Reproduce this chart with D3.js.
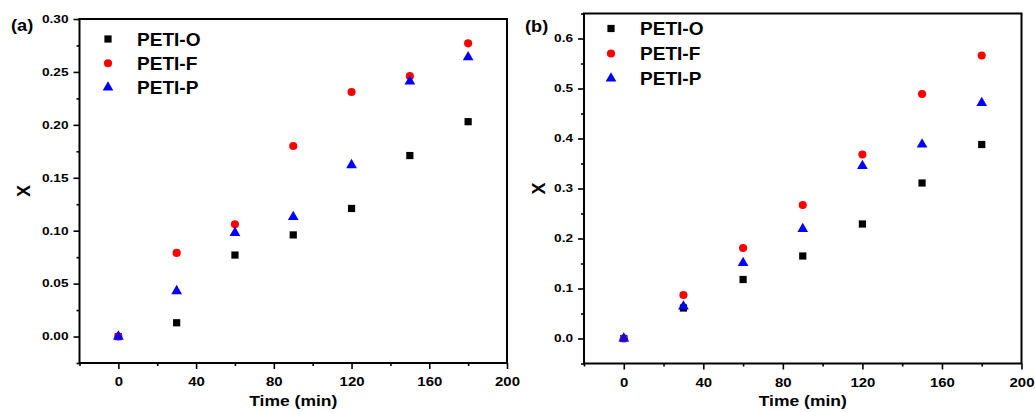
<!DOCTYPE html>
<html lang="en">
<head>
    <meta charset="UTF-8">
    <title>Conversion vs time</title>
    <script src="https://d3js.org/d3.v7.min.js"></script>
    <style>
        body {
            margin: 0;
            background: #fff;
            font-family: "Liberation Sans", Arial, sans-serif;
        }
        .tick text {
            font-family: "Liberation Sans", Arial, sans-serif;
            font-weight: bold;
            fill: #000;
        }
        .tick line {
            stroke: #000;
            stroke-width: 1.6px;
        }
        .label {
            font-weight: bold;
            fill: #000;
        }
    </style>
</head>
<body>
    <svg width="1035" height="412"></svg>
    <script>
        // data
        const times = [0, 30, 60, 90, 120, 150, 180];
        const seriesNames = ["PETI-O", "PETI-F", "PETI-P"];

        const petiO_a = [0, 0.013, 0.077, 0.096, 0.121, 0.171, 0.203];
        const petiF_a = [0, 0.079, 0.106, 0.180, 0.231, 0.246, 0.277];
        const petiP_a = [0, 0.043, 0.098, 0.113, 0.162, 0.241, 0.264];

        const petiO_b = [0, 0.061, 0.118, 0.165, 0.229, 0.311, 0.388];
        const petiF_b = [0, 0.087, 0.181, 0.267, 0.368, 0.489, 0.566];
        const petiP_b = [0, 0.064, 0.151, 0.219, 0.345, 0.388, 0.471];

        const xMajor = [0, 40, 80, 120, 160, 200];
        const xMinor = [-20, 20, 60, 100, 140, 180];
        const yMajor_a = [0, 0.05, 0.10, 0.15, 0.20, 0.25, 0.30];
        const yMinor_a = [-0.025, 0.025, 0.075, 0.125, 0.175, 0.225, 0.275];
        const yMajor_b = [0, 0.1, 0.2, 0.3, 0.4, 0.5, 0.6];
        const yMinor_b = [-0.05, 0.05, 0.15, 0.25, 0.35, 0.45, 0.55, 0.65];

        const colors = ["#000000", "#ff0000", "#0000ff"];
        const shapes = [d3.symbolSquare, d3.symbolCircle, d3.symbolTriangle];
        const sizes = [52, 52, 50];

        const svg = d3.select("svg");

        function drawPanel(p) {
            const x = d3.scaleLinear().domain([-20, 200]).range([p.left, p.right]);
            const y = d3.scaleLinear().domain(p.yDomain).range([p.bottom, p.top]);

            const g = svg.append("g");

            // x axis, major + minor
            g.append("g")
                .attr("transform", `translate(0,${p.bottom})`)
                .call(d3.axisBottom(x).tickValues(xMajor).tickSize(6).tickPadding(8))
                .call(s => s.select(".domain").remove())
                .call(s => s.selectAll("text")
                    .style("font-size", "13px")
                    .attr("transform", "scale(1.15,1)"));
            g.append("g")
                .attr("transform", `translate(0,${p.bottom})`)
                .call(d3.axisBottom(x).tickValues(xMinor).tickSize(3).tickFormat(""))
                .call(s => s.select(".domain").remove());

            // y axis, major + minor
            g.append("g")
                .attr("transform", `translate(${p.left},0)`)
                .call(d3.axisLeft(y).tickValues(p.yMajor).tickSize(6).tickFormat(d3.format(p.fmt)))
                .call(s => s.select(".domain").remove())
                .call(s => s.selectAll("text")
                    .style("font-size", "10.5px")
                    .attr("x", -11 / 1.3)
                    .attr("transform", "scale(1.3,1)"));
            g.append("g")
                .attr("transform", `translate(${p.left},0)`)
                .call(d3.axisLeft(y).tickValues(p.yMinor).tickSize(3).tickFormat(""))
                .call(s => s.select(".domain").remove());

            // frame
            g.append("rect")
                .attr("x", p.left)
                .attr("y", p.top)
                .attr("width", p.right - p.left)
                .attr("height", p.bottom - p.top)
                .attr("fill", "none")
                .attr("stroke", "#000")
                .attr("stroke-width", 2);

            // points
            p.series.forEach((vals, i) => {
                g.append("g").selectAll("path")
                    .data(times.map((t, j) => ({ t: t, v: vals[j] })))
                    .join("path")
                    .attr("d", d3.symbol().type(shapes[i]).size(sizes[i]))
                    .attr("transform", d => `translate(${x(d.t)},${y(d.v)})`)
                    .attr("fill", colors[i]);
            });

            // legend
            seriesNames.forEach((name, i) => {
                const ly = p.legY + i * p.legStep;
                g.append("path")
                    .attr("d", d3.symbol().type(shapes[i]).size(sizes[i]))
                    .attr("transform", `translate(${p.legX},${ly})`)
                    .attr("fill", colors[i]);
                g.append("text")
                    .attr("class", "label")
                    .attr("transform", `translate(${p.legX + 29},${ly + 6.5}) scale(1.06,1)`)
                    .style("font-size", "18px")
                    .text(name);
            });

            // axis titles
            g.append("text")
                .attr("class", "label")
                .attr("transform", `translate(${(p.left + p.right) / 2},406) scale(1.13,1)`)
                .attr("text-anchor", "middle")
                .style("font-size", "15.5px")
                .text("Time (min)");

            g.append("text")
                .attr("class", "label")
                .attr("transform", `translate(${p.yLabelX},${(p.top + p.bottom) / 2}) rotate(-90)`)
                .attr("text-anchor", "middle")
                .style("font-size", "18px")
                .text("X");

            g.append("text")
                .attr("class", "label")
                .attr("transform", `translate(${p.tagX},${p.tagY}) scale(1.07,1)`)
                .style("font-size", "17px")
                .text(p.tag);
        }

        drawPanel({
            left: 79.5, right: 507, top: 19, bottom: 363,
            yDomain: [-0.025, 0.30], yMajor: yMajor_a, yMinor: yMinor_a, fmt: ".2f",
            series: [petiO_a, petiF_a, petiP_a],
            legX: 108, legY: 39, legStep: 24.2,
            yLabelX: 29.5, tag: "(a)", tagX: 11, tagY: 31
        });

        drawPanel({
            left: 584, right: 1021.5, top: 13.5, bottom: 363.5,
            yDomain: [-0.05, 0.65], yMajor: yMajor_b, yMinor: yMinor_b, fmt: ".1f",
            series: [petiO_b, petiF_b, petiP_b],
            legX: 611, legY: 28.5, legStep: 25,
            yLabelX: 545, tag: "(b)", tagX: 525, tagY: 32
        });
    </script>
</body>
</html>
